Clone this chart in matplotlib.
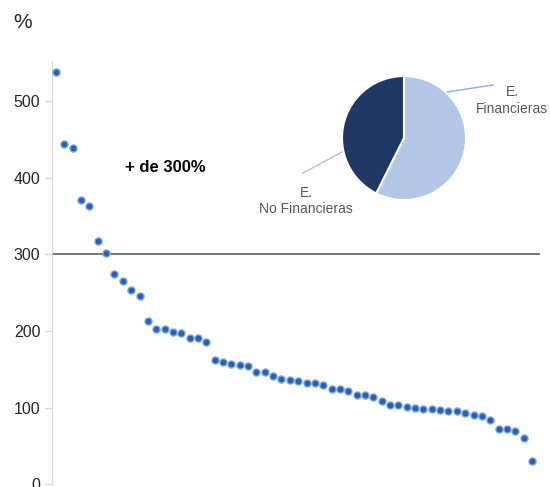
import matplotlib
matplotlib.use("Agg")
import matplotlib.pyplot as plt
import numpy as np

values = [538, 444, 438, 371, 363, 317, 301,
          274, 265, 254, 246, 213, 203, 203, 199, 198, 191, 191, 186,
          162, 160, 157, 156, 154, 146, 146,
          141, 137, 136, 135, 132, 132, 130, 125, 124, 122, 117, 117, 114, 109,
          103, 103, 101, 99, 98, 98, 97, 96, 96, 93, 91, 89, 84, 72, 72, 70, 61, 31]
yticks = [0, 100, 200, 300, 400, 500]
threshold = 300
pie_labels = ["E.\nFinancieras", "E.\nNo Financieras"]
pie_shares = [57.4, 42.6]
pie_colors = ["#B4C7E7", "#203864"]

plt.rcParams['font.family'] = ['Liberation Sans', 'DejaVu Sans']

fig = plt.figure(figsize=(5.5, 4.87), dpi=100)
ax = fig.add_axes([51.5/550, 1-484.4/487, (540-51.5)/550, (484.4-61.7)/487])
x = np.arange(1, len(values)+1)
ax.scatter(x, values, s=26, facecolor="#2C5FAE", edgecolor="#7DA8DF", linewidth=1.0, zorder=3)
ax.axhline(threshold, color="#44546A", linewidth=1.1, zorder=2)
ax.set_xlim(0.461, 58.96)
ax.set_ylim(0, 551)
ax.set_yticks(yticks)
ax.set_xticks([])
for s in ["top", "right", "bottom"]:
    ax.spines[s].set_visible(False)
ax.spines["left"].set_color("#D9D9D9")
ax.tick_params(axis="y", colors="#D9D9D9", length=5, width=1, labelsize=11.5, labelcolor="#262626", pad=3)
ax.set_facecolor("none")

fig.text(13/550, 1-22/487, "%", fontsize=15, color="#262626", va="center", ha="left")
fig.text(165/550, 1-167/487, "+ de 300%", fontsize=12, fontweight="bold", color="black",
         ha="center", va="center")

pax = fig.add_axes([(404-62)/550, 1-(138+62)/487, 124/550, 124/487])
pax.pie(pie_shares, colors=pie_colors, startangle=90, counterclock=False,
        wedgeprops=dict(edgecolor="white", linewidth=1.5), radius=1.0)
pax.set_xlim(-1, 1)
pax.set_ylim(-1, 1)
pax.set_aspect("equal")
pax.axis("off")
pax.plot([0.694, 1.435], [0.742, 0.855], color="#8FAADC", linewidth=1, clip_on=False)
pax.plot([-1.0, -1.629], [-0.226, -0.565], color="#BFBFBF", linewidth=1, clip_on=False)
pax.text(1.742, 0.60, pie_labels[0], ha="center", va="center", fontsize=10,
         color="#595959", linespacing=1.25, clip_on=False)
pax.text(-1.58, -1.016, pie_labels[1], ha="center", va="center", fontsize=10,
         color="#595959", linespacing=1.25, clip_on=False)

fig.savefig("out.png", dpi=100)
